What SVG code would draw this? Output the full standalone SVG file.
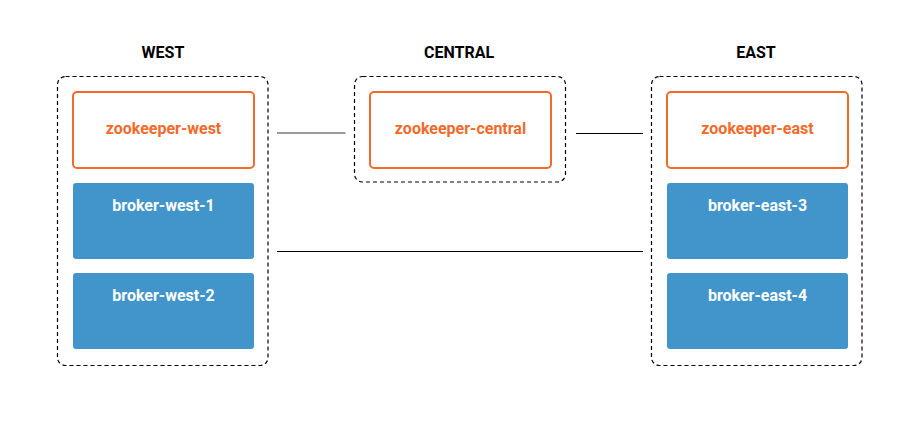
<svg xmlns="http://www.w3.org/2000/svg" width="922" height="430" viewBox="0 0 922 430">
<style>
.bg{fill:#ffffff}
.grp{fill:none;stroke:#000;stroke-width:1.2;stroke-dasharray:4 3}
.title{font-family:Roboto,"Liberation Sans",sans-serif;font-weight:bold;font-size:16px;fill:#000;text-anchor:middle}
.zk{fill:#fff;stroke:#F26A2A;stroke-width:2}
.zkt{font-family:Roboto,"Liberation Sans",sans-serif;font-weight:bold;font-size:16px;fill:#F26A2A;text-anchor:middle;dominant-baseline:central}
.br{fill:#4195CA}
.brt{font-family:Roboto,"Liberation Sans",sans-serif;font-weight:bold;font-size:16px;fill:#fff;text-anchor:middle;dominant-baseline:central}
.ln{stroke:#000;stroke-width:1;fill:none}
</style>
<rect class="bg" x="0" y="0" width="922" height="430"/>
<g id="west-group">
<text class="title" x="163" y="58">WEST</text>
<rect class="grp" x="57.5" y="76.5" width="210.5" height="289" rx="8"/>
</g>
<g id="central-group">
<text class="title" x="459" y="58">CENTRAL</text>
<rect class="grp" x="354.5" y="76.5" width="211" height="105.5" rx="8"/>
</g>
<g id="east-group">
<text class="title" x="756" y="58">EAST</text>
<rect class="grp" x="651.5" y="76.5" width="210.5" height="289" rx="8"/>
</g>
<g id="connectors">
<line x1="277" y1="133" x2="345.5" y2="133" style="stroke:#7a7a7a;stroke-width:1.5"/>
<line class="ln" x1="576" y1="133.5" x2="643" y2="133.5"/>
<line class="ln" x1="277" y1="251.5" x2="643" y2="251.5"/>
</g>
<g id="zookeeper-west">
<rect class="zk" x="73" y="92" width="181" height="76" rx="4"/>
<text class="zkt" x="163.5" y="128">zookeeper-west</text>
</g>
<g id="broker-west-1">
<rect class="br" x="73" y="183" width="181" height="76" rx="3"/>
<text class="brt" x="163.5" y="205">broker-west-1</text>
</g>
<g id="broker-west-2">
<rect class="br" x="73" y="273" width="181" height="76" rx="3"/>
<text class="brt" x="163.5" y="295">broker-west-2</text>
</g>
<g id="zookeeper-central">
<rect class="zk" x="370" y="92" width="181" height="76" rx="4"/>
<text class="zkt" x="460.5" y="128">zookeeper-central</text>
</g>
<g id="zookeeper-east">
<rect class="zk" x="667" y="92" width="181" height="76" rx="4"/>
<text class="zkt" x="757.5" y="128">zookeeper-east</text>
</g>
<g id="broker-east-3">
<rect class="br" x="667" y="183" width="181" height="76" rx="3"/>
<text class="brt" x="757.5" y="205">broker-east-3</text>
</g>
<g id="broker-east-4">
<rect class="br" x="667" y="273" width="181" height="76" rx="3"/>
<text class="brt" x="757.5" y="295">broker-east-4</text>
</g>
</svg>
